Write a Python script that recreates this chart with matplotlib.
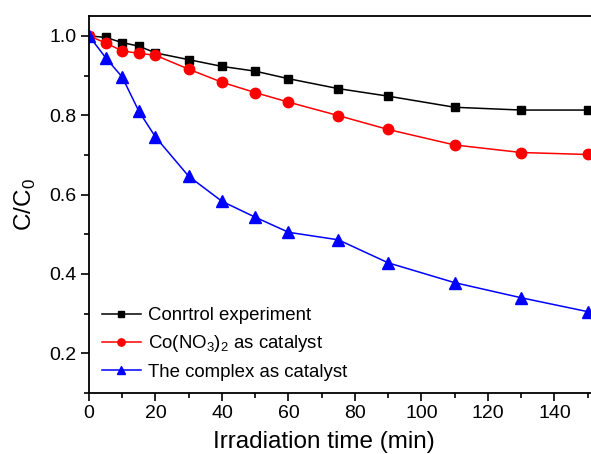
import matplotlib
matplotlib.use("Agg")
import matplotlib.pyplot as plt
from matplotlib.ticker import MultipleLocator

plt.rcParams['font.family'] = ['Liberation Sans', 'DejaVu Sans']
plt.rcParams['mathtext.fontset'] = 'custom'
plt.rcParams['mathtext.rm'] = 'Liberation Sans'

time = [0, 5, 10, 15, 20, 30, 40, 50, 60, 75, 90, 110, 130, 150]
control = [1.0, 0.996, 0.983, 0.974, 0.957, 0.940, 0.923, 0.911, 0.892, 0.867, 0.848, 0.820, 0.813, 0.813]
cono3 = [1.0, 0.982, 0.962, 0.956, 0.951, 0.916, 0.883, 0.857, 0.833, 0.799, 0.764, 0.725, 0.706, 0.701]
complex_ = [1.0, 0.945, 0.896, 0.810, 0.745, 0.646, 0.583, 0.543, 0.505, 0.486, 0.428, 0.378, 0.340, 0.305]
labels = ["Conrtrol experiment", r"Co(NO$_3$)$_2$ as catalyst", "The complex as catalyst"]

fig = plt.figure(figsize=(5.91, 4.54), dpi=100)
ax = fig.add_axes([89/591, 1-393/454, 1-89/591, (393-16)/454])

ax.plot(time, control, '-s', color='black', lw=1.1, ms=6, label=labels[0])
ax.plot(time, cono3, '-o', color='#ff0000', lw=1.1, ms=7.5, label=labels[1])
ax.plot(time, complex_, '-^', color='#0000ff', lw=1.1, ms=8, label=labels[2])

ax.set_xlim(0, 151)
ax.set_ylim(0.1, 1.05)
ax.xaxis.set_major_locator(MultipleLocator(20))
ax.xaxis.set_minor_locator(MultipleLocator(10))
ax.yaxis.set_major_locator(MultipleLocator(0.2))
ax.yaxis.set_minor_locator(MultipleLocator(0.1))
ax.set_yticks([0.2, 0.4, 0.6, 0.8, 1.0])
ax.tick_params(which='major', direction='out', length=6, width=1.2, labelsize=14, pad=3, top=False, right=False)
ax.tick_params(which='minor', direction='out', length=3.5, width=1.2, top=False, right=False)
for s in ['left', 'bottom', 'top']:
    ax.spines[s].set_linewidth(1.3)
ax.spines['right'].set_visible(False)

ax.set_xlabel('Irradiation time (min)', fontsize=17.5)
ax.xaxis.set_label_coords(0.468, -0.101)
ax.set_ylabel(r'C/C$_0$', fontsize=17.5, labelpad=8)

leg = ax.legend(loc='lower left', bbox_to_anchor=(-0.008, -0.012), frameon=False, fontsize=13.4,
                markerscale=0.7, handlelength=2.1, handletextpad=0.4, labelspacing=0.5)

fig.savefig('out.png', dpi=100)
